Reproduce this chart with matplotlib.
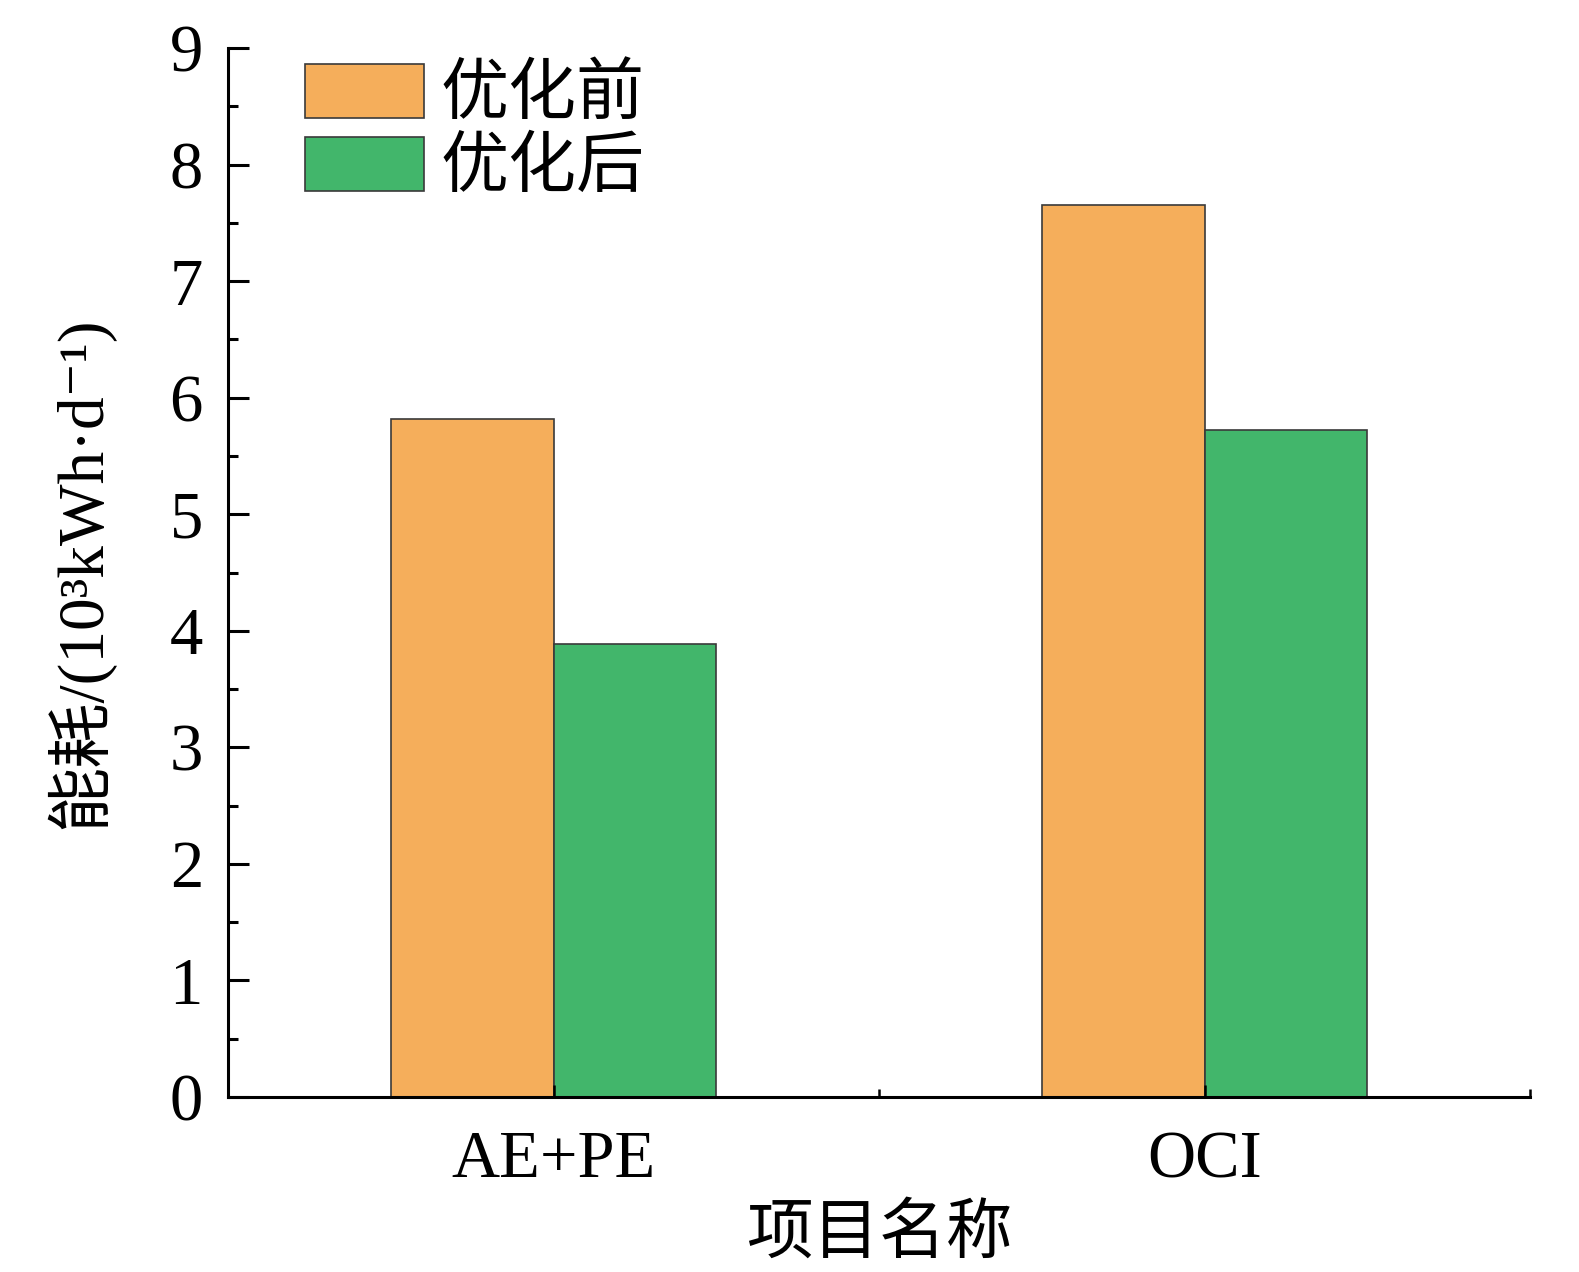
import matplotlib
matplotlib.use("Agg")
import matplotlib.pyplot as plt
import numpy as np
from matplotlib.ticker import MultipleLocator, FixedLocator

plt.rcParams['font.family'] = ['Liberation Serif', 'Noto Sans CJK SC', 'DejaVu Serif']

# dados
categorias = ['AE+PE', 'OCI']
antes = [5.82, 7.65]    # 优化前
depois = [3.89, 5.72]   # 优化后
legenda = ['优化前', '优化后']

cor_antes = '#F5AE5B'
cor_depois = '#42B66B'

fig = plt.figure(figsize=(15.79, 12.72), dpi=100)
ax = fig.add_axes([228/1579, 1 - 1097/1272, (1530-228)/1579, (1097-48)/1272])

x = np.arange(1, len(categorias) + 1)
w = 0.25
ax.bar(x - w/2, antes, w, color=cor_antes, edgecolor='#3a3a3a', linewidth=1.2, label=legenda[0])
ax.bar(x + w/2, depois, w, color=cor_depois, edgecolor='#3a3a3a', linewidth=1.2, label=legenda[1])

ax.set_xlim(0.5, 2.5)
ax.set_ylim(0, 9)

# eixos
for s in ['top', 'right']:
  ax.spines[s].set_visible(False)
for s in ['left', 'bottom']:
  ax.spines[s].set_linewidth(2.2)

ax.yaxis.set_major_locator(MultipleLocator(1))
ax.yaxis.set_minor_locator(MultipleLocator(0.5))
ax.xaxis.set_major_locator(FixedLocator(x))
ax.xaxis.set_minor_locator(FixedLocator([1.5, 2.5]))
ax.set_xticklabels(categorias)

ax.tick_params(axis='y', which='major', direction='in', length=15, width=2.2, labelsize=48, pad=18)
ax.tick_params(axis='y', which='minor', direction='in', length=7, width=2.2)
ax.tick_params(axis='x', which='major', direction='in', length=9, width=1.8, labelsize=48, pad=24)
ax.tick_params(axis='x', which='minor', direction='in', length=6, width=1.8)

ax.set_xlabel('项目名称', fontsize=48, labelpad=10)
ax.set_ylabel('能耗/(10³kWh·d⁻¹)', fontsize=47, labelpad=40)

ax.legend(loc='upper left', bbox_to_anchor=(0.059, 0.985), frameon=False, fontsize=49,
          handlelength=1.75, handleheight=0.85, labelspacing=0.12, handletextpad=0.25,
          borderpad=0, borderaxespad=0)

fig.savefig('out.png', dpi=100)
